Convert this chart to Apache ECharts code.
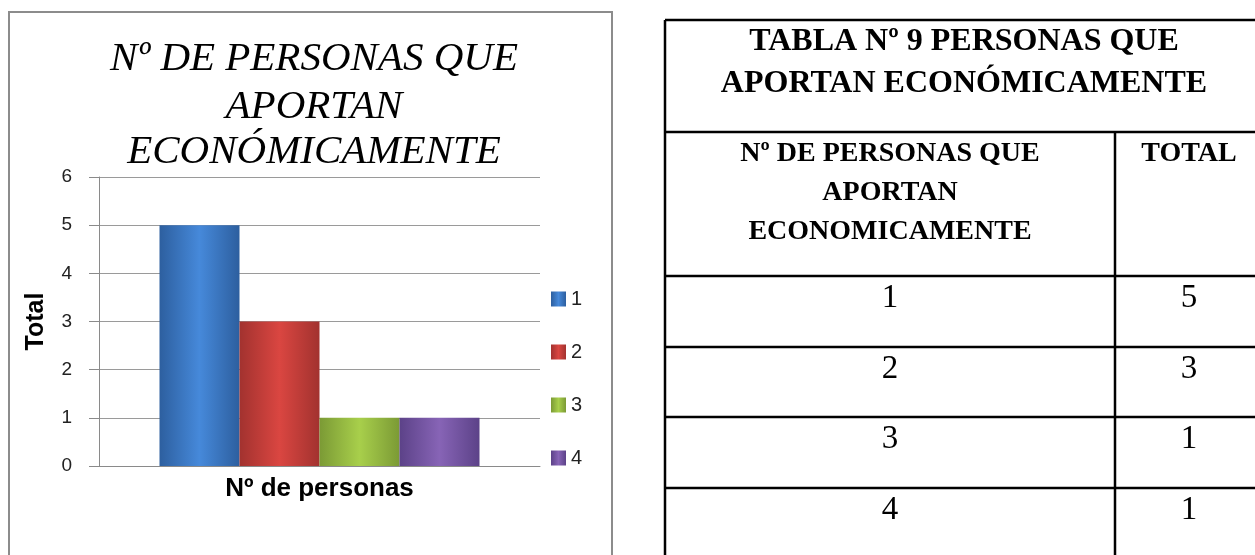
<!DOCTYPE html>
<html>
<head>
<meta charset="utf-8">
<script src="https://cdn.jsdelivr.net/npm/echarts@6/dist/echarts.min.js"></script>
<style>
  html, body { margin: 0; padding: 0; background: #fff; }
  #main { width: 1255px; height: 555px; }
</style>
</head>
<body>
<div id="main"></div>
<script>
// datos del grafico / tabla
var personas = ['1', '2', '3', '4'];
var totales = [5, 3, 1, 1];
var categoria = ['Nº de personas'];
var yTicks = [0, 1, 2, 3, 4, 5, 6];
var tituloGrafico = ['Nº DE PERSONAS QUE', 'APORTAN', 'ECONÓMICAMENTE'];
var tituloTabla = ['TABLA Nº 9 PERSONAS QUE', 'APORTAN ECONÓMICAMENTE'];
var cabecera = ['Nº DE PERSONAS QUE', 'APORTAN', 'ECONOMICAMENTE'];
var cabeceraTotal = 'TOTAL';

// colores estilo excel (borde oscuro, centro claro)
var colores = [
  ['#2d5f9f', '#4689da'],
  ['#a2322f', '#da4641'],
  ['#7b9a35', '#a8cf4b'],
  ['#5c4288', '#8764b6']
];

function degradado(c) {
  return new echarts.graphic.LinearGradient(0, 0, 1, 0, [
    { offset: 0, color: c[0] },
    { offset: 0.5, color: c[1] },
    { offset: 1, color: c[0] }
  ]);
}

var chart = echarts.init(document.getElementById('main'));

var series = personas.map(function (p, i) {
  return {
    name: p,
    type: 'bar',
    data: [totales[i]],
    barWidth: 80,
    barGap: '0%',
    itemStyle: { color: degradado(colores[i]) }
  };
});

// lineas y textos de la tabla
var tx0 = 665, tx1 = 1115, tx2 = 1263;
var filas = [20, 132, 276, 347, 417, 488, 560];
var graficos = [];

// marco del grafico
graficos.push({
  type: 'rect',
  shape: { x: 9, y: 12, width: 603, height: 570 },
  style: { fill: null, stroke: '#8c8c8c', lineWidth: 2 }
});

// titulo del grafico
var tgY = [59, 107, 152];
tituloGrafico.forEach(function (t, i) {
  graficos.push({
    type: 'text', x: 314, y: tgY[i],
    style: { text: t, fill: '#000', font: 'italic 41px "Liberation Serif"', align: 'center', verticalAlign: 'middle' }
  });
});

function linea(x1, y1, x2, y2) {
  graficos.push({
    type: 'line',
    shape: { x1: x1, y1: y1, x2: x2, y2: y2 },
    style: { stroke: '#000', lineWidth: 2.5 }
  });
}

filas.forEach(function (y) { linea(tx0, y, tx2, y); });
linea(tx0, filas[0], tx0, 560);
linea(tx2, filas[0], tx2, 560);
linea(tx1, filas[1], tx1, 560);

var ttY = [42, 84];
tituloTabla.forEach(function (t, i) {
  graficos.push({
    type: 'text', x: (tx0 + tx2) / 2, y: ttY[i],
    style: { text: t, fill: '#000', font: 'bold 32px "Liberation Serif"', align: 'center', verticalAlign: 'middle' }
  });
});

var cY = [154, 193, 232];
cabecera.forEach(function (t, i) {
  graficos.push({
    type: 'text', x: (tx0 + tx1) / 2, y: cY[i],
    style: { text: t, fill: '#000', font: 'bold 28px "Liberation Serif"', align: 'center', verticalAlign: 'middle' }
  });
});
graficos.push({
  type: 'text', x: (tx1 + tx2) / 2, y: cY[0],
  style: { text: cabeceraTotal, fill: '#000', font: 'bold 28px "Liberation Serif"', align: 'center', verticalAlign: 'middle' }
});

personas.forEach(function (p, i) {
  var y = filas[i + 2] + 22;
  graficos.push({
    type: 'text', x: (tx0 + tx1) / 2, y: y,
    style: { text: p, fill: '#000', font: '33px "Liberation Serif"', align: 'center', verticalAlign: 'middle' }
  });
  graficos.push({
    type: 'text', x: (tx1 + tx2) / 2, y: y,
    style: { text: String(totales[i]), fill: '#000', font: '33px "Liberation Serif"', align: 'center', verticalAlign: 'middle' }
  });
});

chart.setOption({
  animation: false,
  grid: { left: 99, right: 715, top: 177, bottom: 89, containLabel: false },
  legend: {
    orient: 'vertical',
    left: 551,
    top: 289,
    padding: 0,
    itemWidth: 15,
    itemHeight: 15,
    itemGap: 33,
    icon: 'rect',
    data: personas,
    textStyle: { fontFamily: 'Liberation Sans', fontSize: 20, color: '#222', lineHeight: 15 }
  },
  xAxis: {
    type: 'category',
    data: categoria,
    axisLine: { lineStyle: { color: '#8a8a8a' } },
    axisTick: { show: false },
    axisLabel: { fontFamily: 'Liberation Sans', fontWeight: 'bold', fontSize: 26, color: '#000', margin: 10 }
  },
  yAxis: {
    type: 'value',
    min: yTicks[0],
    max: yTicks[yTicks.length - 1],
    interval: 1,
    name: 'Total',
    nameLocation: 'middle',
    nameRotate: 90,
    nameGap: 50,
    nameTextStyle: { fontFamily: 'Liberation Sans', fontWeight: 'bold', fontSize: 25, color: '#000' },
    axisLine: { show: true, lineStyle: { color: '#8a8a8a' } },
    axisTick: { show: true, length: 10, lineStyle: { color: '#8a8a8a' } },
    axisLabel: { fontFamily: 'Liberation Sans', fontSize: 19, color: '#222', margin: 27 },
    splitLine: { lineStyle: { color: '#9a9a9a' } }
  },
  series: series,
  graphic: graficos
});
</script>
</body>
</html>
